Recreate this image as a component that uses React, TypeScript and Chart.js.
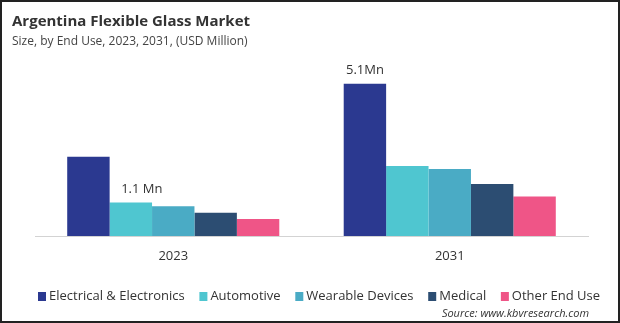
import { useEffect, useRef } from "react";
import { Chart, registerables } from "chart.js";

Chart.register(...registerables);

const categories = ["2023", "2031"];
const seriesNames = ["Electrical & Electronics", "Automotive", "Wearable Devices", "Medical", "Other End Use"];
const electrical = [2.66, 5.1];
const automotive = [1.12, 2.35];
const wearable = [1.0, 2.25];
const medical = [0.78, 1.74];
const otherEndUse = [0.57, 1.32];
const seriesColors = ["#2B3990", "#4FC6D0", "#4AABC5", "#2C4D72", "#EF5587"];
const barLabels = [
  { series: 1, index: 0, text: "1.1 Mn", dx: 11 },
  { series: 0, index: 1, text: "5.1Mn", dx: 0 },
];
const titleText = "Argentina Flexible Glass Market";
const subtitleText = "Size, by End Use, 2023, 2031, (USD Million)";
const sourceText = "Source: www.kbvresearch.com";

const FONT = '"Open Sans", "Noto Sans", sans-serif';

const overlayPlugin = {
  id: "overlay",
  afterDraw(chart: any) {
    const ctx = chart.ctx as CanvasRenderingContext2D;
    ctx.save();
    // title
    ctx.fillStyle = "#333333";
    ctx.textBaseline = "middle";
    ctx.textAlign = "left";
    ctx.font = `bold 15px ${FONT}`;
    ctx.fillText(titleText, 12, 22);
    ctx.font = `12px ${FONT}`;
    ctx.fillStyle = "#444444";
    ctx.fillText(subtitleText, 12, 42);

    // bar labels
    ctx.font = `13px ${FONT}`;
    ctx.fillStyle = "#333333";
    ctx.textAlign = "center";
    ctx.textBaseline = "bottom";
    for (const l of barLabels) {
      const el = chart.getDatasetMeta(l.series).data[l.index];
      ctx.fillText(l.text, el.x + l.dx, el.y - 7);
    }

    // legend
    ctx.font = `13px ${FONT}`;
    ctx.textAlign = "left";
    ctx.textBaseline = "middle";
    let x = 38;
    const ly = 296.5;
    seriesNames.forEach((name, i) => {
      ctx.fillStyle = seriesColors[i];
      ctx.fillRect(x, ly - 4.5, 8, 9);
      ctx.fillStyle = "#333333";
      ctx.fillText(name, x + 11, ly);
      x += 11 + ctx.measureText(name).width + 14.7;
    });

    // source
    ctx.font = `italic 11px ${FONT}`;
    ctx.textAlign = "right";
    ctx.fillStyle = "#333333";
    ctx.fillText(sourceText, 589, 313.5);

    // border
    ctx.strokeStyle = "#222222";
    ctx.lineWidth = 2;
    ctx.strokeRect(1, 1, chart.width - 2, chart.height - 2);
    ctx.restore();
  },
};

export default function App() {
  const ref = useRef<HTMLCanvasElement>(null);
  useEffect(() => {
    const seriesValues = [electrical, automotive, wearable, medical, otherEndUse];
    const chart = new Chart(ref.current!, {
      type: "bar",
      data: {
        labels: categories,
        datasets: seriesNames.map((name, i) => ({
          label: name,
          data: seriesValues[i],
          backgroundColor: seriesColors[i],
          borderWidth: 0,
          barPercentage: 1,
          categoryPercentage: 0.767,
        })),
      },
      options: {
        responsive: false,
        maintainAspectRatio: false,
        animation: false,
        layout: { padding: { left: 35, right: 32, top: 57, bottom: 0 } },
        plugins: {
          legend: { display: false },
          title: { display: false },
          tooltip: { enabled: false },
        },
        scales: {
          x: {
            grid: { display: false, drawTicks: false },
            border: { display: true, color: "#D3D3D3", width: 1 },
            ticks: { color: "#333333", font: { family: FONT, size: 13 }, padding: 12 },
            afterFit: (scale: any) => {
              scale.height = 87;
            },
          },
          y: { display: false, min: 0, max: 6 },
        },
      },
      plugins: [overlayPlugin],
    });
    return () => chart.destroy();
  }, []);
  return (
    <div style={{ position: "absolute", left: 0, top: 0, width: 620, height: 323, background: "#fff" }}>
      <canvas ref={ref} width={620} height={323} />
    </div>
  );
}
